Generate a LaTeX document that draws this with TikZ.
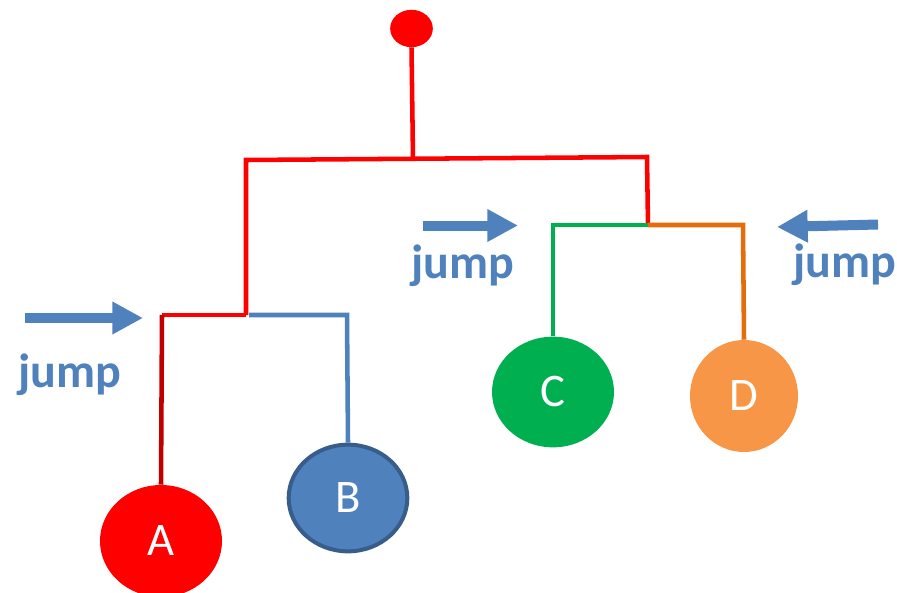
\documentclass[tikz,border=0pt]{standalone}
\usepackage{fontspec}
\setmainfont{Carlito}
\usetikzlibrary{shapes.geometric,arrows.meta}
\definecolor{tred}{HTML}{FF0000}
\definecolor{tdarkred}{HTML}{C00000}
\definecolor{tblue}{HTML}{4F81BD}
\definecolor{tblueedge}{HTML}{385D8A}
\definecolor{tgreen}{HTML}{00B050}
\definecolor{torange}{HTML}{E46C0A}
\definecolor{tlightorange}{HTML}{F79646}
\tikzset{
  leaf/.style={ellipse, inner sep=0pt, text=white,
    font=\fontsize{35}{40}\selectfont},
  branch/.style={line width=3.4pt},
  jumparrow/.style={tblue, line width=7.5pt,
    -{Triangle[length=23pt, width=23pt]}},
  jumplabel/.style={anchor=base, text=tblue,
    font=\fontsize{36}{40}\selectfont\bfseries},
}
\begin{document}
\begin{tikzpicture}[x=0.75pt, y=-0.75pt]
  \path[use as bounding box] (0,0) rectangle (897,593);

  % leaves and root
  \node[leaf, fill=tred, minimum width=91.5pt, minimum height=84pt] (A) at (161,541) {A};
  \node[leaf, fill=tblue, draw=tblueedge, line width=3pt,
        minimum width=89pt, minimum height=80pt] (B) at (348,498) {B};
  \node[leaf, fill=tgreen, minimum width=91.5pt, minimum height=83pt] (C) at (553,392) {C};
  \node[leaf, fill=tlightorange, minimum width=81pt, minimum height=84pt] (D) at (744,396) {D};
  \node[ellipse, fill=tred, inner sep=0pt, minimum width=32pt, minimum height=28pt] (root) at (411.5,28.5) {};

  % junction points of the tree
  \coordinate (rootj) at (413,158.5);
  \coordinate (lt) at (246,160);
  \coordinate (rt) at (647,157);
  \coordinate (lj) at (246,315);
  \coordinate (rj) at (648,225);
  \coordinate (aj) at (162,315);
  \coordinate (bj) at (347,315);
  \coordinate (cj) at (553,225);
  \coordinate (dj) at (743,225);

  % tree branches
  \draw[branch, tred] (root.south) -- (rootj);
  \draw[branch, tred, line join=miter] (lj) -- (lt) -- (rt) -- (rj);
  \draw[branch, tred, line join=miter] (lj) -- (aj);
  \draw[branch, tdarkred] (aj) -- (A.north);
  \draw[branch, tblue, line join=miter] (249,315) -- (bj) -- (B.north);
  \draw[branch, tgreen, line join=miter] (rj) -- (cj) -- (C.north);
  \draw[branch, torange, line join=miter] (rj) -- (dj) -- (D.north);

  % jump arrows
  \coordinate (a1s) at (25,318);
  \coordinate (a1e) at (143,318);
  \coordinate (a2s) at (423,225.5);
  \coordinate (a2e) at (518,225.5);
  \coordinate (a3s) at (878,224.5);
  \coordinate (a3e) at (777,227);
  \draw[jumparrow] (a1s) -- (a1e);
  \draw[jumparrow] (a2s) -- (a2e);
  \draw[jumparrow] (a3s) -- (a3e);

  % jump labels
  \node[jumplabel] (j1) at (69.5,387) {jump};
  \node[jumplabel] (j2) at (463,278) {jump};
  \node[jumplabel] (j3) at (844.5,277) {jump};
\end{tikzpicture}
\end{document}
